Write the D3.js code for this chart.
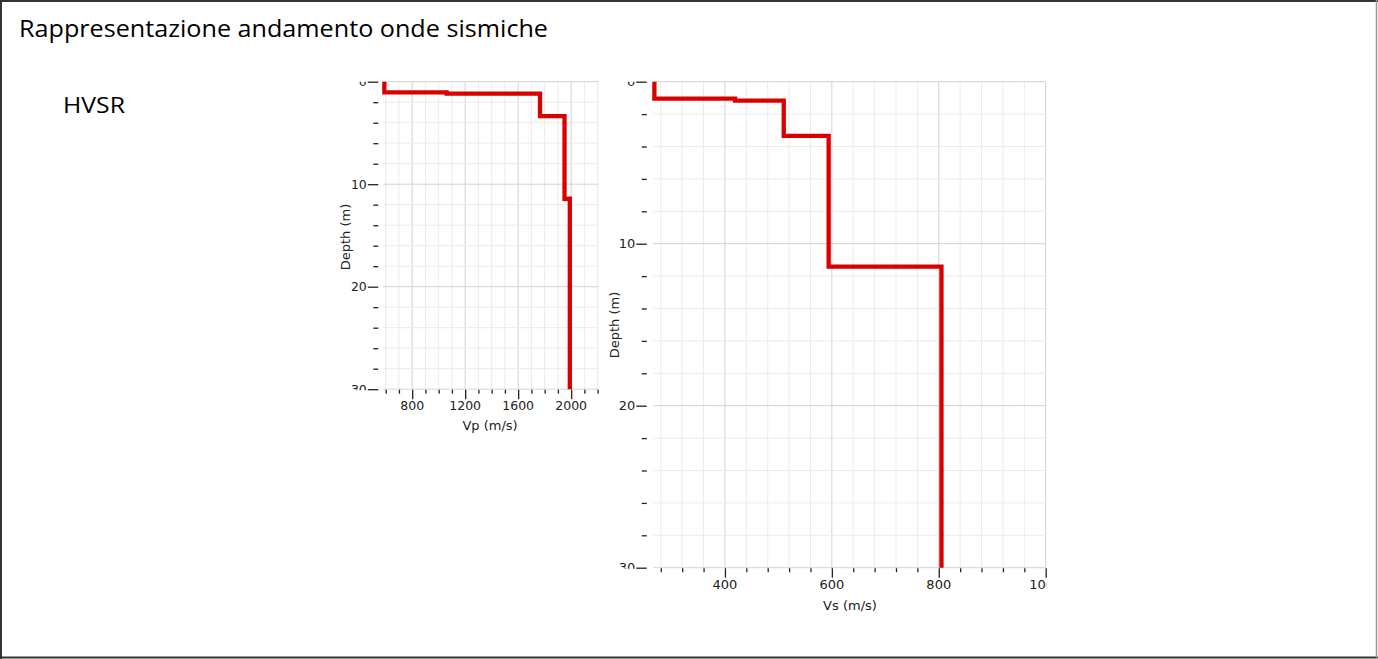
<!DOCTYPE html>
<html>
<head>
<meta charset="utf-8">
<script src="https://cdn.jsdelivr.net/npm/d3@7"></script>
<style>
  html, body { margin: 0; padding: 0; background: #fff; }
  svg { display: block; }
</style>
</head>
<body>
<svg id="chart" width="1378" height="659"></svg>
<script>
// ---- data ----
const layerTopDepth = [0, 1.05, 1.17, 3.35, 11.42];   // m
const maxDepth = 30;                                  // m
const vpValues = [590, 1060, 1765, 1950, 1990];       // m/s
const vsValues = [268, 419, 510, 594, 805];           // m/s
const depthTickLabels = [0, 10, 20, 30];
const vpTickLabels = [800, 1200, 1600, 2000];
const vsTickLabels = [400, 600, 800, 1000];
const titleText = "Rappresentazione andamento onde sismiche";
const subtitleText = "HVSR";

const svg = d3.select("#chart");

// outer frame
svg.append("line").attr("x1", 1).attr("y1", 0).attr("x2", 1).attr("y2", 659).attr("stroke", "#333").attr("stroke-width", 2);
svg.append("line").attr("x1", 0).attr("y1", 1).attr("x2", 1378).attr("y2", 1).attr("stroke", "#333").attr("stroke-width", 2);
svg.append("line").attr("x1", 0).attr("y1", 657.5).attr("x2", 1378).attr("y2", 657.5).attr("stroke", "#333").attr("stroke-width", 2);
svg.append("line").attr("x1", 1376.5).attr("y1", 0).attr("x2", 1376.5).attr("y2", 659).attr("stroke", "#999").attr("stroke-width", 1.5);

svg.append("text").attr("x", 19).attr("y", 37)
  .attr("font-family", "'Open Sans', Lato, sans-serif").attr("font-size", 23.5).attr("fill", "#000")
  .attr("textLength", 529).attr("lengthAdjust", "spacingAndGlyphs")
  .text(titleText);
svg.append("text").attr("x", 63).attr("y", 113)
  .attr("font-family", "'Open Sans', Lato, sans-serif").attr("font-size", 21.5).attr("fill", "#000")
  .attr("textLength", 62).attr("lengthAdjust", "spacingAndGlyphs")
  .text(subtitleText);

function stepPath(values, x, y) {
  const pts = [];
  values.forEach((v, i) => {
    const top = layerTopDepth[i];
    const bot = i + 1 < values.length ? layerTopDepth[i + 1] : maxDepth;
    pts.push([x(v), y(top)]);
    pts.push([x(v), y(bot)]);
  });
  return d3.line()(pts);
}

function drawProfile(cfg, id) {
  const x = d3.scaleLinear().domain(cfg.xDomain).range([cfg.left, cfg.right]);
  const y = d3.scaleLinear().domain([0, maxDepth]).range([cfg.top, cfg.bottom]);
  const g = svg.append("g");
  const fs = cfg.fontSize;
  const font = "'DejaVu Sans', Verdana, sans-serif";

  const xMinor = d3.range(cfg.xTickStart, cfg.xDomain[1] + 0.01, cfg.xTickStep);
  const yMinor = d3.range(0, maxDepth + 0.01, 2);

  // grid
  g.selectAll(".vg").data(xMinor).join("line")
    .attr("x1", d => x(d)).attr("x2", d => x(d)).attr("y1", cfg.top).attr("y2", cfg.bottom)
    .attr("stroke", d => cfg.xLabels.includes(d) ? "#d2d2d2" : "#ebebeb").attr("stroke-width", 1);
  g.selectAll(".hg").data(yMinor).join("line")
    .attr("x1", cfg.left).attr("x2", cfg.right).attr("y1", d => y(d)).attr("y2", d => y(d))
    .attr("stroke", d => depthTickLabels.includes(d) ? "#d2d2d2" : "#ebebeb").attr("stroke-width", 1);

  // y axis ticks
  const yAxis = d3.axisLeft(y).tickValues(yMinor).tickSize(0).tickFormat("");
  const ya = g.append("g").attr("transform", `translate(${cfg.left - cfg.yGap},0)`).call(yAxis);
  ya.select(".domain").remove();
  ya.selectAll(".tick").append("line")
    .attr("x1", d => depthTickLabels.includes(d) ? -10.5 : -5).attr("x2", 0)
    .attr("stroke", "#222").attr("stroke-width", 1.3);

  // y labels clipped to plot height
  const clipY = `clipY${id}`;
  svg.append("clipPath").attr("id", clipY).append("rect")
    .attr("x", 0).attr("y", cfg.top).attr("width", 1378).attr("height", cfg.bottom - cfg.top + 1);
  g.append("g").attr("clip-path", `url(#${clipY})`)
    .selectAll("text").data(depthTickLabels).join("text")
    .attr("x", cfg.left - cfg.yGap - 11.5).attr("y", d => y(d)).attr("dy", "0.36em")
    .attr("text-anchor", "end").attr("font-family", font).attr("font-size", fs).attr("fill", "#222")
    .text(d => d);

  // x axis ticks
  const xAxis = d3.axisBottom(x).tickValues(xMinor).tickSize(0).tickFormat("");
  const xa = g.append("g").attr("transform", `translate(0,${cfg.bottom})`).call(xAxis);
  xa.select(".domain").remove();
  xa.selectAll(".tick").append("line")
    .attr("y1", 0.5).attr("y2", d => cfg.xLabels.includes(d) ? 10 : 4.5)
    .attr("stroke", "#222").attr("stroke-width", 1.3);

  const clipX = `clipX${id}`;
  svg.append("clipPath").attr("id", clipX).append("rect")
    .attr("x", 0).attr("y", 0).attr("width", cfg.right + 1).attr("height", 659);
  g.append("g").attr("clip-path", `url(#${clipX})`)
    .selectAll("text").data(cfg.xLabels).join("text")
    .attr("x", d => x(d)).attr("y", cfg.bottom + cfg.xLabelDy)
    .attr("text-anchor", "middle").attr("font-family", font).attr("font-size", fs).attr("fill", "#222")
    .text(d => d);

  // axis titles
  g.append("text").attr("x", cfg.xTitleX).attr("y", cfg.bottom + cfg.xTitleDy)
    .attr("text-anchor", "middle").attr("font-family", font).attr("font-size", 13).attr("fill", "#222")
    .text(cfg.xTitle);
  g.append("text")
    .attr("transform", `translate(${cfg.yTitleX},${cfg.yTitleY}) rotate(-90)`)
    .attr("text-anchor", "middle").attr("font-family", font).attr("font-size", 13).attr("fill", "#222")
    .text("Depth (m)");

  // step profile
  g.append("path").attr("d", stepPath(cfg.values, x, y))
    .attr("fill", "none").attr("stroke", "#d90000").attr("stroke-width", 4.3)
    .attr("stroke-linejoin", "miter").attr("stroke-linecap", "butt");
}

drawProfile({
  values: vpValues, xDomain: [582, 2205], xTickStart: 600, xTickStep: 100, xLabels: vpTickLabels,
  left: 383.3, right: 598.3, top: 81.7, bottom: 389.2, yGap: 5, fontSize: 12.5,
  xLabelDy: 21, xTitle: "Vp (m/s)", xTitleX: 490, xTitleDy: 41, yTitleX: 350, yTitleY: 237
}, "vp");

drawProfile({
  values: vsValues, xDomain: [266, 1000], xTickStart: 280, xTickStep: 40, xLabels: vsTickLabels,
  left: 653.3, right: 1045.7, top: 81.7, bottom: 567.7, yGap: 6.5, fontSize: 13,
  xLabelDy: 21.5, xTitle: "Vs (m/s)", xTitleX: 850, xTitleDy: 42, yTitleX: 619, yTitleY: 325
}, "vs");
</script>
</body>
</html>
